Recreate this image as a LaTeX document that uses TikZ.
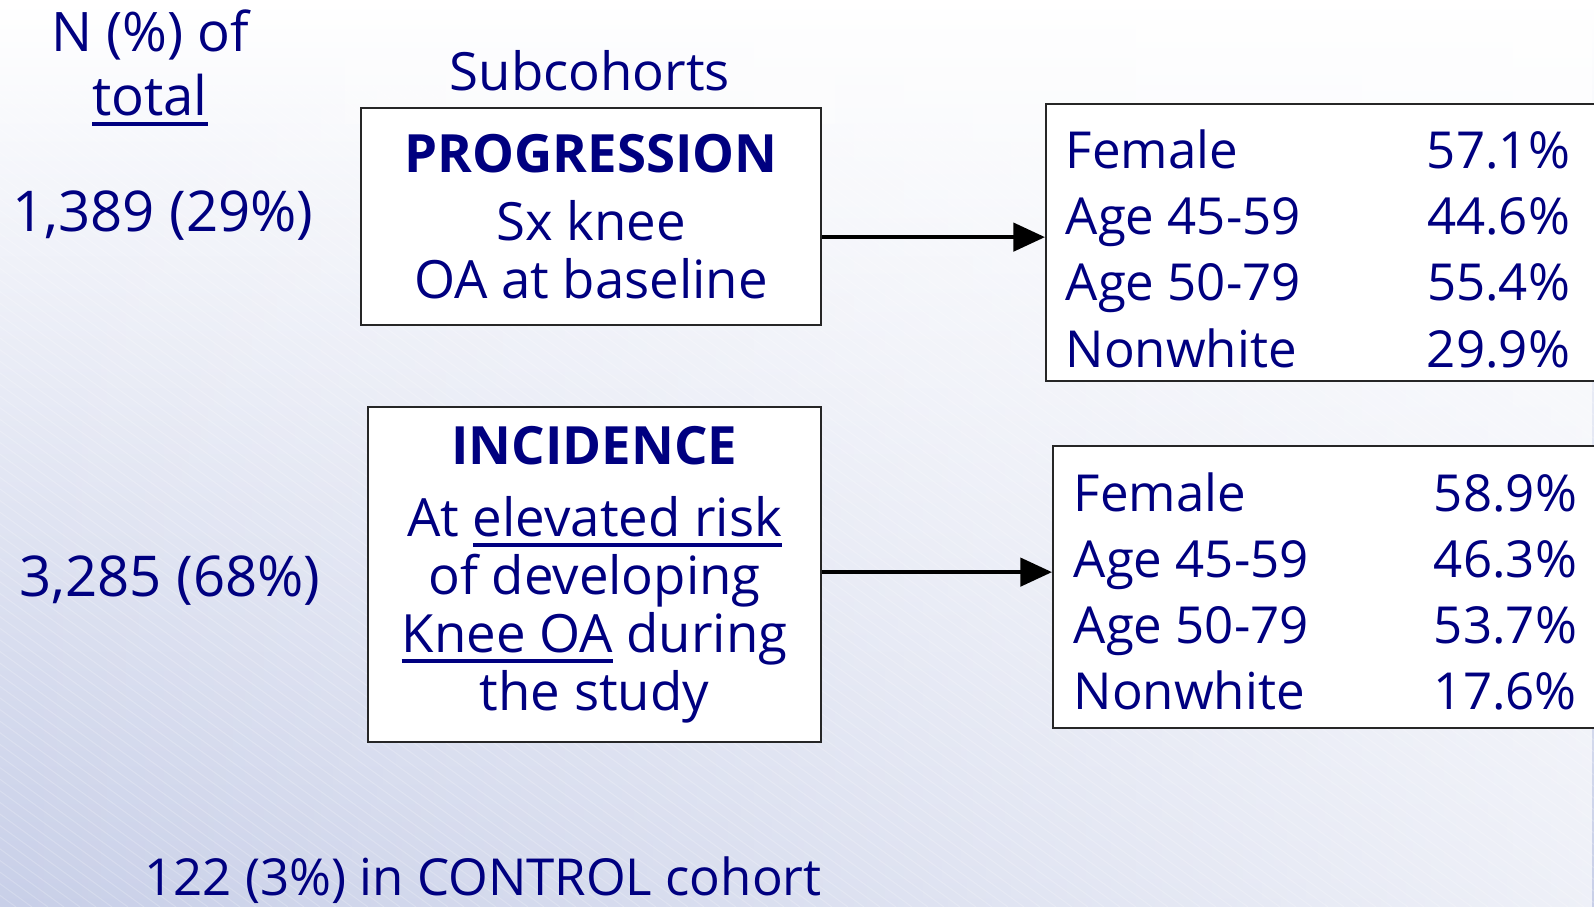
\documentclass[tikz,border=0pt]{standalone}
\usepackage{fontspec}
\setmainfont{Open Sans}
\usepackage{xcolor}
\usepackage{tikz}
\usetikzlibrary{arrows.meta,fadings}

\definecolor{navy}{RGB}{0,0,128}
\definecolor{bgdark}{RGB}{200,207,232}
\newcommand{\undl}[1]{\setbox0\hbox{#1}\makebox[0pt][l]{\rule[-3pt]{\wd0}{1.2pt}}\box0\relax}

\tikzset{
  lbl/.style={text=navy, font=\fontsize{15}{16.5}\selectfont},
  cohort/.style={draw=black!85, line width=0.6pt, fill=white, lbl, align=center},
  statbox/.style={draw=black!85, line width=0.6pt, fill=white, anchor=north west,
    minimum width=6cm},
  stattext/.style={text=navy, font=\fontsize{14.5}{18.8}\selectfont, anchor=west,
    inner sep=0pt},
  flow/.style={line width=1.2pt, -{Triangle[length=9pt,width=8pt]}},
  hatch/.style={white, opacity=0.2, line width=0.3pt},
}

\begin{document}
\begin{tikzpicture}[x=0.01cm, y=-0.01cm]
        \useasboundingbox (0,0) rectangle (1594,907);                   %
        \clip (0,0) rectangle (1594,907);                               %
        \shade [top color=white, bottom color=bgdark] (0,0) rectangle (1594,907);
        \fill [white, path fading=west, opacity=0.7] (0,0) rectangle (1594,907);
        \foreach \i in {0,16,...,2900}
          \draw [hatch] ({\i-1250},0) -- (\i,907);                      %background
        \node [lbl, align=center, font=\fontsize{15.5}{18}\selectfont] (head) at (150,68)
              {N (\%) of\\\undl{total}};                                %
        \node [lbl, fill=white, fill opacity=0.3, text opacity=1,
               minimum width=4.9cm, minimum height=1.05cm] (sub) at (590,71) {Subcohorts};
        \node [cohort, minimum width=4.6cm, minimum height=2.17cm] (prog) at (591,216.5)
              {\textbf{PROGRESSION}\\[3pt] Sx knee\\ OA at baseline};  %PROGRESSION
        \node [lbl, font=\fontsize{16}{18}\selectfont] (nprog) at (163,216) {1,389 (29\%)};
        \node [cohort, minimum width=4.53cm, minimum height=3.35cm] (inc) at (594.5,574.5)
              {\textbf{INCIDENCE}\\[4pt] At \undl{elevated risk}\\ of developing\\
               \undl{Knee OA} during\\ the study};                      %INCIDENCE
        \node [lbl, font=\fontsize{16}{18}\selectfont] (ninc)  at (170,581) {3,285 (68\%)};
        \node [statbox, minimum height=2.77cm] (s1) at (1045,103) {};   %
        \node [stattext] (s1t) at ([xshift=0.2cm, yshift=-0.12cm]s1.west)
              {\begin{tabular}{@{}p{3.61cm}@{}l@{}}
               Female    & 57.1\% \\ Age 45-59 & 44.6\% \\
               Age 50-79 & 55.4\% \\ Nonwhite  & 29.9\% \end{tabular}};
        \node [statbox, minimum height=2.82cm] (s2) at (1052,445) {};   %
        \node [stattext] (s2t) at ([xshift=0.21cm, yshift=-0.1cm]s2.west)
              {\begin{tabular}{@{}p{3.6cm}@{}l@{}}
               Female    & 58.9\% \\ Age 45-59 & 46.3\% \\
               Age 50-79 & 53.7\% \\ Nonwhite  & 17.6\% \end{tabular}};
        \path ([yshift=0.055cm]s1.west) coordinate (t1);                %
        \path ([yshift=0.15cm]s2.west)  coordinate (t2);                %
        \draw [flow] (t1 -| prog.east) -- (t1);                         %
        \draw [flow] (t2 -| inc.east)  -- (t2);                         %
        \node [lbl, font=\fontsize{14.5}{16}\selectfont] (ctrl) at (483,880)
              {122 (3\%) in CONTROL cohort};                            %
       \end{tikzpicture}
\end{document}
